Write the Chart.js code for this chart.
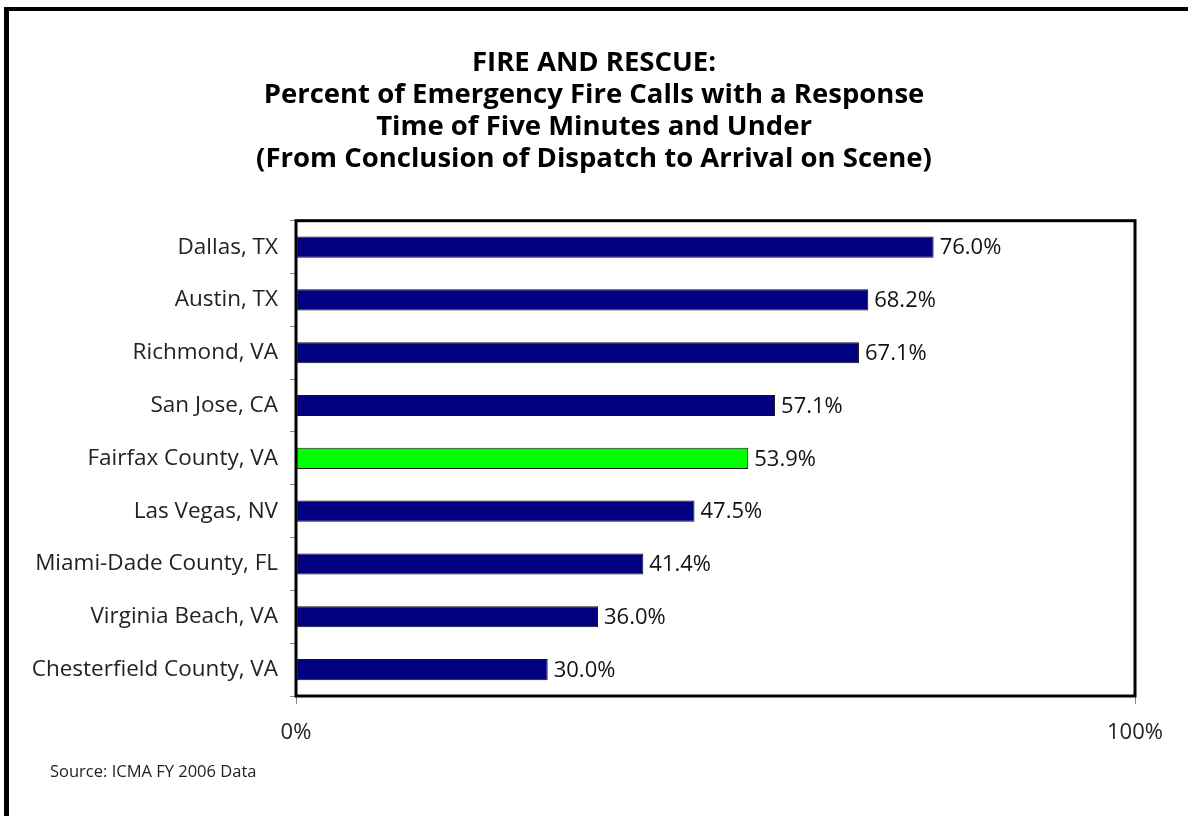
<!DOCTYPE html>
<html>
<head>
<meta charset="utf-8">
<script src="https://cdn.jsdelivr.net/npm/chart.js@4"></script>
<style>
  html, body { margin: 0; padding: 0; background: #fff; }
  #wrap { width: 1188px; height: 816px; position: relative; }
</style>
</head>
<body>
<div id="wrap"><canvas id="fireChart" width="1188" height="816"></canvas></div>
<script>
const cities = [
    'Dallas, TX', 'Austin, TX', 'Richmond, VA', 'San Jose, CA', 'Fairfax County, VA',
    'Las Vegas, NV', 'Miami-Dade County, FL', 'Virginia Beach, VA', 'Chesterfield County, VA'
];
const pctUnderFive = [76.0, 68.2, 67.1, 57.1, 53.9, 47.5, 41.4, 36.0, 30.0];
const highlightCity = 'Fairfax County, VA';
const xTicks = [0, 100];
const titleLines = [
    'FIRE AND RESCUE:',
    'Percent of Emergency Fire Calls with a Response',
    'Time of Five Minutes and Under',
    '(From Conclusion of Dispatch to Arrival on Scene)'
];
const sourceNote = 'Source: ICMA FY 2006 Data';

const FONT = '"Open Sans", Lato, sans-serif';

// frame, plot border, value labels and source note
const decorPlugin = {
    id: 'decor',
    afterDatasetsDraw(chart) {
        const ctx = chart.ctx;
        const meta = chart.getDatasetMeta(0);
        ctx.save();
        ctx.font = '22px ' + FONT;
        ctx.fillStyle = '#111';
        ctx.textBaseline = 'middle';
        ctx.textAlign = 'left';
        meta.data.forEach((bar, i) => {
            ctx.fillText(pctUnderFive[i].toFixed(1) + '%', bar.x + 6, bar.y + 1);
        });
        ctx.restore();
    },
    afterDraw(chart) {
        const ctx = chart.ctx;
        const a = chart.chartArea;
        ctx.save();
        ctx.strokeStyle = '#000';
        ctx.lineWidth = 3;
        ctx.strokeRect(a.left, a.top, a.right - a.left, a.bottom - a.top);

        // outer frame (left and top)
        ctx.lineWidth = 5;
        ctx.beginPath();
        ctx.moveTo(6.5, 816);
        ctx.lineTo(6.5, 9);
        ctx.stroke();
        ctx.lineWidth = 4;
        ctx.beginPath();
        ctx.moveTo(4, 9);
        ctx.lineTo(1188, 9);
        ctx.stroke();

        ctx.font = '16.5px ' + FONT;
        ctx.fillStyle = '#222';
        ctx.textBaseline = 'middle';
        ctx.fillText(sourceNote, 50, 772);
        ctx.restore();
    }
};

const ctx = document.getElementById('fireChart').getContext('2d');
new Chart(ctx, {
    type: 'bar',
    data: {
        labels: cities,
        datasets: [{
            data: pctUnderFive,
            backgroundColor: cities.map(c => c === highlightCity ? '#00ff00' : '#000080'),
            borderColor: '#111',
            borderWidth: 1,
            borderSkipped: false,
            barPercentage: 0.4,
            categoryPercentage: 1.0
        }]
    },
    options: {
        indexAxis: 'y',
        responsive: false,
        animation: false,
        layout: { padding: 0 },
        scales: {
            x: {
                min: 0,
                max: 100,
                afterBuildTicks: (axis) => { axis.ticks = xTicks.map(v => ({ value: v })); },
                afterFit: (axis) => { axis.height = 120; },
                grid: { drawOnChartArea: false, drawTicks: true, tickLength: 8, color: '#888' },
                border: { display: false },
                ticks: {
                    padding: 16,
                    color: '#222',
                    font: { family: FONT, size: 22 },
                    callback: (v) => v + '%'
                }
            },
            y: {
                afterFit: (axis) => { axis.width = 296; },
                grid: { drawOnChartArea: false, drawTicks: true, tickLength: 6, color: '#888', offset: true },
                border: { display: false },
                ticks: {
                    padding: 12,
                    color: '#222',
                    font: { family: FONT, size: 22.5 }
                }
            },
            // empty right-hand axis, only reserves the margin right of the plot
            yRight: {
                type: 'category',
                position: 'right',
                labels: cities,
                afterFit: (axis) => { axis.width = 53; },
                grid: { display: false },
                border: { display: false },
                ticks: { display: false }
            }
        },
        plugins: {
            legend: { display: false },
            tooltip: { enabled: false },
            title: {
                display: true,
                text: titleLines,
                color: '#000',
                font: { family: FONT, size: 27.5, weight: 'bold', lineHeight: 1.17 },
                padding: { top: 47, bottom: 45 }
            }
        }
    },
    plugins: [decorPlugin]
});
</script>
</body>
</html>
